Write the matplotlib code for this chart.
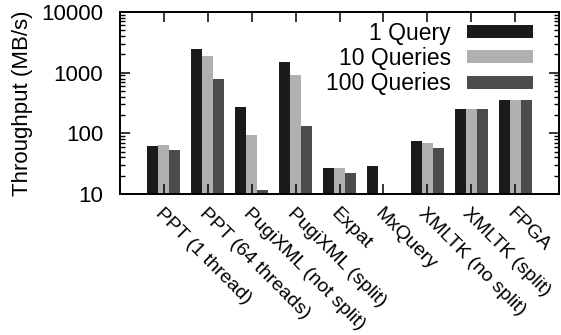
import numpy as np
import matplotlib
matplotlib.use("Agg")
import matplotlib.pyplot as plt
import matplotlib.transforms as mtransforms
from matplotlib.ticker import LogLocator, NullFormatter

plt.rcParams['font.family'] = ['Liberation Sans', 'DejaVu Sans']

# data (MB/s), nan = no bar
systems = ["PPT (1 thread)", "PPT (64 threads)", "PugiXML (not split)",
           "PugiXML (split)", "Expat", "MxQuery", "XMLTK (no split)",
           "XMLTK (split)", "FPGA"]
q1 = [62, 2450, 272, 1500, 26, 28, 75, 252, 354]
q10 = [64, 1880, 94, 915, 26, np.nan, 69, 252, 354]
q100 = [53, 787, 10.8, 132, 21.5, np.nan, 57, 252, 354]
series = ["1 Query", "10 Queries", "100 Queries"]
colors = ["#1b1b1b", "#b0b0b0", "#4c4c4c"]

fig = plt.figure(figsize=(5.61, 3.35), dpi=100)
ax = fig.add_axes([120 / 561, 1 - 194 / 335, 439 / 561, 182 / 335])

x = np.arange(len(systems))
w = 0.25
for i, (vals, lab, c) in enumerate(zip([q1, q10, q100], series, colors)):
    ax.bar(x + (i - 1) * w, vals, width=w, color=c, label=lab, bottom=1)

ax.set_yscale("log")
ax.set_ylim(10, 10000)
ax.set_xlim(-1, 9)
ax.set_yticks([10, 100, 1000, 10000])
ax.set_yticklabels(["10", "100", "1000", "10000"])
ax.yaxis.set_minor_locator(LogLocator(base=10, subs=np.arange(2, 10)))
ax.yaxis.set_minor_formatter(NullFormatter())

ax.set_xticks(x)
ax.set_xticklabels(systems, rotation=-45, ha="left", va="top",
                   rotation_mode="anchor", fontsize=14)
# nudge the slanted labels a little to the right, like gnuplot
shift = mtransforms.ScaledTranslation(5 / 100, 2 / 100, fig.dpi_scale_trans)
for lbl in ax.get_xticklabels():
    lbl.set_transform(lbl.get_transform() + shift)

ax.tick_params(axis="x", which="major", direction="in", top=True,
               length=7, width=1.1, pad=8)
ax.tick_params(axis="y", which="major", direction="in", right=True,
               length=7, width=1.1, pad=12, labelsize=16)
ax.tick_params(axis="y", which="minor", direction="in", right=True,
               length=3.5, width=1.0)
for s in ax.spines.values():
    s.set_linewidth(1.4)

ax.set_ylabel("Throughput (MB/s)", fontsize=16)
ax.yaxis.set_label_coords(-0.198, 0.5)

ax.legend(loc="upper right", bbox_to_anchor=(0.957, 0.984), markerfirst=False,
          frameon=False, fontsize=16.5, handlelength=2.9, handleheight=0.5,
          labelspacing=0.1, handletextpad=0.7, borderaxespad=0, borderpad=0.3)

fig.savefig("out.png", dpi=100)
